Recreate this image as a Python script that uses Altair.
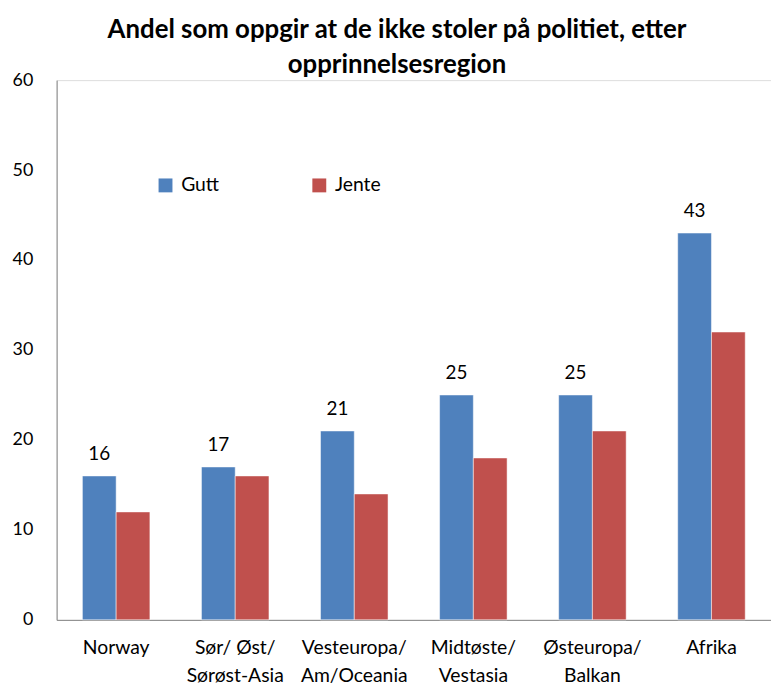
import altair as alt
import pandas as pd

regions = ["Norway", "Sør/ Øst/\nSørøst-Asia", "Vesteuropa/\nAm/Oceania",
           "Midtøste/\nVestasia", "Østeuropa/\nBalkan", "Afrika"]
gutt = [16, 17, 21, 25, 25, 43]
jente = [12, 16, 14, 18, 21, 32]
series = ["Gutt", "Jente"]
colors = ["#4F81BD", "#C0504D"]

rows = []
for r, g, j in zip(regions, gutt, jente):
    rows.append({"region": r, "kjonn": "Gutt", "verdi": g})
    rows.append({"region": r, "kjonn": "Jente", "verdi": j})
df = pd.DataFrame(rows)

FONT = "Lato"

x = alt.X("region:N", sort=regions, title=None,
          scale=alt.Scale(paddingInner=0.433, paddingOuter=0.2165),
          axis=alt.Axis(labelAngle=0, ticks=False, domainColor="#868686",
                        labelFontSize=19.5, labelPadding=19, labelLineHeight=28,
                        labelColor="#000000", labelFont=FONT,
                        labelExpr="split(datum.label, '\\n')"))
y = alt.Y("verdi:Q", title=None,
          scale=alt.Scale(domain=[0, 60]),
          axis=alt.Axis(values=[0, 10, 20, 30, 40, 50, 60], grid=False, ticks=False,
                        domainColor="#868686", labelFontSize=18, labelPadding=24,
                        labelColor="#000000", labelFont=FONT))

base = alt.Chart(df)

bars = base.mark_bar(stroke="#ffffff", strokeOpacity=0.5, strokeWidth=1).encode(
    x=x, y=y,
    xOffset=alt.XOffset("kjonn:N", sort=series),
    color=alt.Color("kjonn:N", sort=series,
                    scale=alt.Scale(domain=series, range=colors),
                    legend=alt.Legend(title=None, orient="none", legendX=100, legendY=96,
                                      direction="horizontal", symbolType="square",
                                      symbolSize=196, symbolStrokeWidth=0,
                                      labelFontSize=19.5, labelFont=FONT,
                                      labelColor="#000000", columnPadding=91,
                                      labelOffset=6)),
)

labels = base.transform_filter(alt.datum.kjonn == "Gutt").mark_text(
    baseline="bottom", dy=-12, fontSize=19, font=FONT, color="#000000"
).encode(
    x=x, y=y,
    xOffset=alt.XOffset("kjonn:N", sort=series, scale=alt.Scale(domain=series)),
    text=alt.Text("verdi:Q"),
)

chart = alt.layer(bars, labels).properties(
    width=720, height=544,
    title=alt.Title(["Andel som oppgir at de ikke stoler på politiet, etter",
                     "opprinnelsesregion"],
                    font=FONT, fontSize=26, fontWeight="bold", color="#000000",
                    lineHeight=35, offset=8, dy=15, anchor="middle", dx=-17),
    autosize=alt.AutoSizeParams(type="none"),
    padding={"left": 49, "top": 70, "right": 0, "bottom": 68},
).configure_view(stroke=None).configure(font=FONT)

chart.save("out.html", embed_options={"renderer": "svg", "actions": False})
